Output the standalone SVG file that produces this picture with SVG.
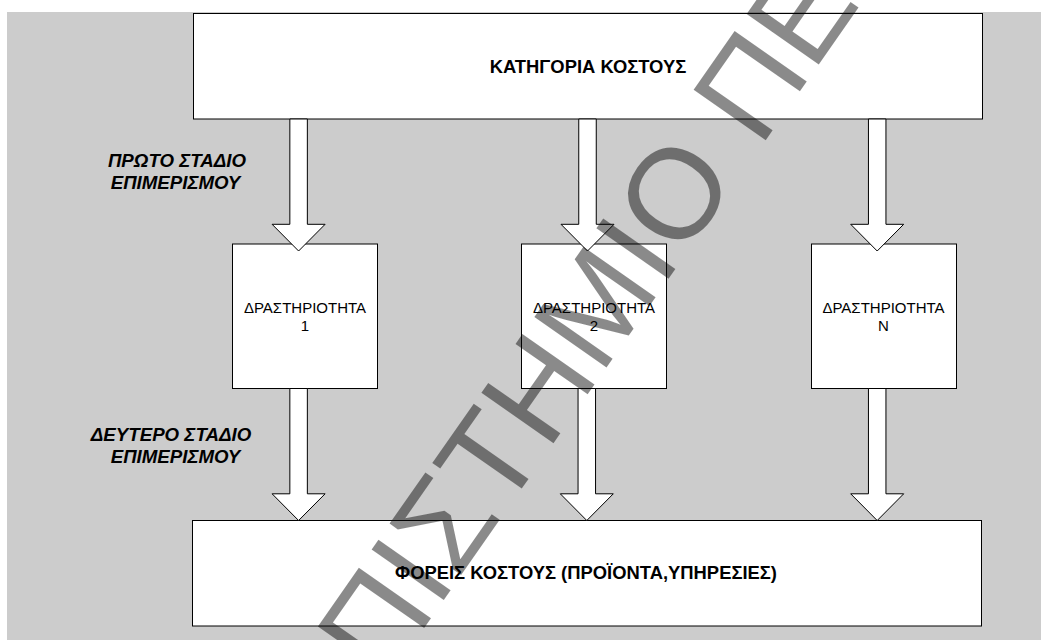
<svg xmlns="http://www.w3.org/2000/svg" width="1041" height="640" viewBox="0 0 1041 640">
  <style>
    .box { fill: #ffffff; stroke: #000000; stroke-width: 1; }
    .arrow { fill: #ffffff; stroke: #000000; stroke-width: 1; stroke-linejoin: miter; }
    .title { font-family: "Liberation Sans", Arial, sans-serif; font-size: 18.4px; font-weight: bold; text-anchor: middle; fill: #000; }
    .act { font-family: "Liberation Sans", Arial, sans-serif; font-size: 15px; text-anchor: middle; fill: #000; }
    .stage { font-family: "Liberation Sans", Arial, sans-serif; font-size: 18.7px; font-weight: bold; font-style: italic; text-anchor: middle; fill: #000; }
    .mark { font-family: "Liberation Sans", Arial, sans-serif; font-size: 128px; fill: #000; fill-opacity: 0.46; }
  </style>
  <defs>
    <!-- hollow block arrow pointing down, centred on x=0 -->
    <path id="blockArrow" d="M-8.75,0 H8.75 V105.3 H26.5 L0,132 L-26.5,105.3 H-8.75 Z"/>
  </defs>

  <!-- page background -->
  <rect x="0" y="0" width="1041" height="640" fill="#ffffff"/>
  <rect x="7" y="12" width="1034" height="628" fill="#cccccc"/>

  <!-- stage captions -->
  <g id="stage1">
    <text class="stage" x="177" y="166.7">ΠΡΩΤΟ ΣΤΑΔΙΟ</text>
    <text class="stage" x="175.5" y="188.9">ΕΠΙΜΕΡΙΣΜΟΥ</text>
  </g>
  <g id="stage2">
    <text class="stage" x="171" y="440.5">ΔΕΥΤΕΡΟ ΣΤΑΔΙΟ</text>
    <text class="stage" x="175.5" y="462.8">ΕΠΙΜΕΡΙΣΜΟΥ</text>
  </g>

  <!-- nodes -->
  <g id="cost-category">
    <rect class="box" x="193.5" y="13.5" width="789" height="105.5"/>
    <text class="title" x="588" y="72.7">ΚΑΤΗΓΟΡΙΑ ΚΟΣΤΟΥΣ</text>
  </g>
  <g id="activity-1">
    <rect class="box" x="232.5" y="244" width="145" height="144.5"/>
    <text class="act" x="305" y="313">ΔΡΑΣΤΗΡΙΟΤΗΤΑ</text>
    <text class="act" x="305" y="330.7">1</text>
  </g>
  <g id="activity-2">
    <rect class="box" x="521.5" y="244" width="145" height="144.5"/>
    <text class="act" x="594" y="313">ΔΡΑΣΤΗΡΙΟΤΗΤΑ</text>
    <text class="act" x="594" y="330.7">2</text>
  </g>
  <g id="activity-n">
    <rect class="box" x="811.5" y="244" width="145" height="144.5"/>
    <text class="act" x="883.5" y="313">ΔΡΑΣΤΗΡΙΟΤΗΤΑ</text>
    <text class="act" x="883.5" y="330.7">N</text>
  </g>
  <g id="cost-objects">
    <rect class="box" x="192.5" y="520.5" width="789" height="105.5"/>
    <text class="title" x="586" y="579">ΦΟΡΕΙΣ ΚΟΣΤΟΥΣ (ΠΡΟΪΟΝΤΑ,ΥΠΗΡΕΣΙΕΣ)</text>
  </g>

  <!-- connectors -->
  <g id="connectors" class="arrow">
    <use href="#blockArrow" x="298.6" y="119"/>
    <use href="#blockArrow" x="587.5" y="119"/>
    <use href="#blockArrow" x="877.2" y="119"/>
    <use href="#blockArrow" x="298.6" y="388.5"/>
    <use href="#blockArrow" x="586.8" y="388.5"/>
    <use href="#blockArrow" x="877.2" y="388.5"/>
  </g>

  <!-- translucent diagonal overprint -->
  <g id="overprint">
    <text class="mark" transform="translate(383.9,685.4) rotate(-55)">ΠΙΣΤΗΜΙΟ ΠΕ</text>
  </g>
</svg>
